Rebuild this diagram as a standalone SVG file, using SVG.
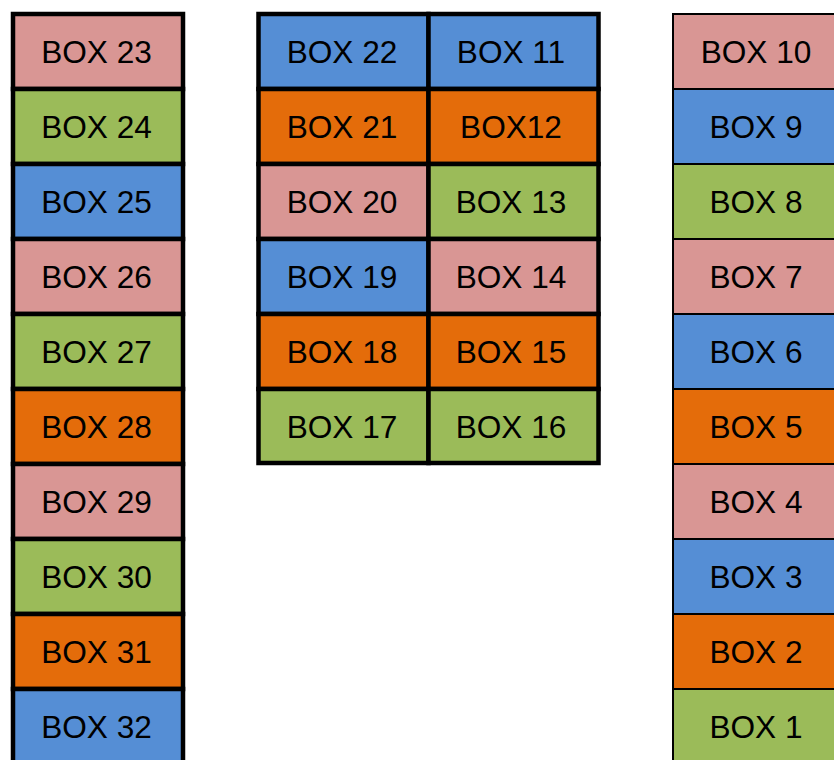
<svg xmlns="http://www.w3.org/2000/svg" width="834" height="760" viewBox="0 0 834 760">
<style>
.c rect{stroke:#000;}
.l rect{stroke-width:4.5;}
.m rect{stroke-width:4.5;}
.r rect{stroke-width:2;}
text{font-family:"Liberation Sans",Arial,sans-serif;font-size:31.6px;fill:#000;text-anchor:middle;}
.pk{fill:#D99694;}
.gr{fill:#9BBB59;}
.bl{fill:#558ED5;}
.or{fill:#E46C0A;}
</style>
<rect width="834" height="760" fill="#fff"/>
<g class="c l">
<g id="box23"><rect class="pk" x="13" y="14" width="170" height="75"/><text x="96.5" y="63">BOX 23</text></g>
<g id="box24"><rect class="gr" x="13" y="89" width="170" height="75"/><text x="96.5" y="138">BOX 24</text></g>
<g id="box25"><rect class="bl" x="13" y="164" width="170" height="75"/><text x="96.5" y="213">BOX 25</text></g>
<g id="box26"><rect class="pk" x="13" y="239" width="170" height="75"/><text x="96.5" y="288">BOX 26</text></g>
<g id="box27"><rect class="gr" x="13" y="314" width="170" height="75"/><text x="96.5" y="363">BOX 27</text></g>
<g id="box28"><rect class="or" x="13" y="389" width="170" height="75"/><text x="96.5" y="438">BOX 28</text></g>
<g id="box29"><rect class="pk" x="13" y="464" width="170" height="75"/><text x="96.5" y="513">BOX 29</text></g>
<g id="box30"><rect class="gr" x="13" y="539" width="170" height="75"/><text x="96.5" y="588">BOX 30</text></g>
<g id="box31"><rect class="or" x="13" y="614" width="170" height="75"/><text x="96.5" y="663">BOX 31</text></g>
<g id="box32"><rect class="bl" x="13" y="689" width="170" height="80"/><text x="96.5" y="738">BOX 32</text></g>
</g>
<g class="c m">
<g id="box22"><rect class="bl" x="258.5" y="14" width="170" height="75"/><text x="342" y="63">BOX 22</text></g>
<g id="box11"><rect class="bl" x="428.5" y="14" width="170" height="75"/><text x="511" y="63">BOX 11</text></g>
<g id="box21"><rect class="or" x="258.5" y="89" width="170" height="75"/><text x="342" y="138">BOX 21</text></g>
<g id="box12"><rect class="or" x="428.5" y="89" width="170" height="75"/><text x="511" y="138">BOX12</text></g>
<g id="box20"><rect class="pk" x="258.5" y="164" width="170" height="75"/><text x="342" y="213">BOX 20</text></g>
<g id="box13"><rect class="gr" x="428.5" y="164" width="170" height="75"/><text x="511" y="213">BOX 13</text></g>
<g id="box19"><rect class="bl" x="258.5" y="239" width="170" height="75"/><text x="342" y="288">BOX 19</text></g>
<g id="box14"><rect class="pk" x="428.5" y="239" width="170" height="75"/><text x="511" y="288">BOX 14</text></g>
<g id="box18"><rect class="or" x="258.5" y="314" width="170" height="75"/><text x="342" y="363">BOX 18</text></g>
<g id="box15"><rect class="or" x="428.5" y="314" width="170" height="75"/><text x="511" y="363">BOX 15</text></g>
<g id="box17"><rect class="gr" x="258.5" y="389" width="170" height="74"/><text x="342" y="438">BOX 17</text></g>
<g id="box16"><rect class="gr" x="428.5" y="389" width="170" height="74"/><text x="511" y="438">BOX 16</text></g>
</g>
<g class="c r">
<g id="box10"><rect class="pk" x="673" y="14" width="170" height="75"/><text x="756" y="63">BOX 10</text></g>
<g id="box9"><rect class="bl" x="673" y="89" width="170" height="75"/><text x="756" y="138">BOX 9</text></g>
<g id="box8"><rect class="gr" x="673" y="164" width="170" height="75"/><text x="756" y="213">BOX 8</text></g>
<g id="box7"><rect class="pk" x="673" y="239" width="170" height="75"/><text x="756" y="288">BOX 7</text></g>
<g id="box6"><rect class="bl" x="673" y="314" width="170" height="75"/><text x="756" y="363">BOX 6</text></g>
<g id="box5"><rect class="or" x="673" y="389" width="170" height="75"/><text x="756" y="438">BOX 5</text></g>
<g id="box4"><rect class="pk" x="673" y="464" width="170" height="75"/><text x="756" y="513">BOX 4</text></g>
<g id="box3"><rect class="bl" x="673" y="539" width="170" height="75"/><text x="756" y="588">BOX 3</text></g>
<g id="box2"><rect class="or" x="673" y="614" width="170" height="75"/><text x="756" y="663">BOX 2</text></g>
<g id="box1"><rect class="gr" x="673" y="689" width="170" height="80"/><text x="756" y="738">BOX 1</text></g>
</g>
<g id="connectors"></g>
</svg>
